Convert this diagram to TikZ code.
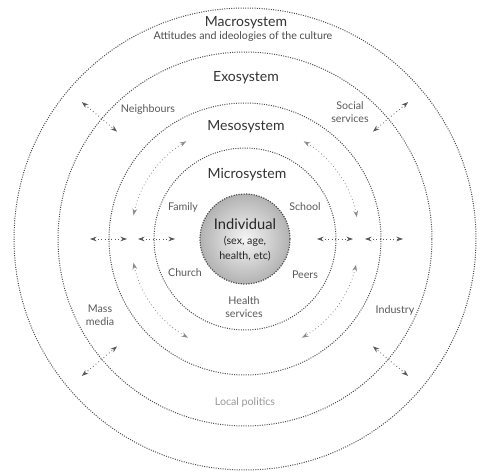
\documentclass[tikz,border=0pt]{standalone}
\usepackage{fontspec}
\setmainfont{Lato}
\usetikzlibrary{arrows.meta,calc}
\begin{document}
\begin{tikzpicture}[x=0.75pt,y=0.75pt,
  ring/.style={draw=black!70, line width=0.75pt, densely dotted},
  flow/.style={draw=black!65, line width=0.6pt, dotted, {Stealth[length=5pt,width=3.5pt]}-{Stealth[length=5pt,width=3.5pt]}},
  arcflow/.style={draw=black!45, line width=0.6pt, dotted, {Stealth[length=5pt,width=3.5pt]}-{Stealth[length=5pt,width=3.5pt]}},
  head/.style={font=\fontsize{10.5}{12}\selectfont, text=black!80, inner sep=1pt},
  lab/.style={font=\fontsize{8}{9.5}\selectfont, text=black!65, inner sep=1pt, align=center},
  faint/.style={font=\fontsize{8}{9.5}\selectfont, text=black!40, inner sep=1pt, align=center}
]
\useasboundingbox (0,0) rectangle (480,472);
\coordinate (c) at (245,233);

% rings
\draw[ring] (c) circle[radius=231];
\draw[ring] (c) circle[radius=187];
\draw[ring] (c) circle[radius=136];
\draw[ring] (c) circle[radius=91];

% individual
\shade[inner color=black!4, outer color=black!30] (c) circle[radius=45];
\draw[draw=black!70, line width=0.9pt, densely dotted] (c) circle[radius=45];
\node[align=center, inner sep=0pt, text=black!85] (ind) at (245,232)
  {{\fontsize{11}{12}\selectfont Individual}\\[-1pt]
   {\fontsize{8}{10}\selectfont (sex, age,}\\[-1pt]
   {\fontsize{8}{10}\selectfont health, etc)}};

% titles
\node[head] (macroT) at (246,449) {Macrosystem};
\node[font=\fontsize{8}{9}\selectfont, text=black!70, inner sep=1pt] (macroS) at (243,435) {Attitudes and ideologies of the culture};
\node[head] (exoT) at (246,394) {Exosystem};
\node[head] (mesoT) at (246,345) {Mesosystem};
\node[head] (microT) at (247,297) {Microsystem};

% labels
\node[lab] (neigh) at (148,362) {Neighbours};
\node[lab] (social) at (350,360) {Social\\services};
\node[lab] (family) at (183,265) {Family};
\node[lab] (school) at (305,265) {School};
\node[lab] (church) at (185,199) {Church};
\node[lab] (peers) at (305,197) {Peers};
\node[lab] (health) at (244,165) {Health\\services};
\node[lab] (mass) at (100,157) {Mass\\media};
\node[lab] (industry) at (395,162) {Industry};
\node[faint] (local) at (245,70) {Local politics};

% horizontal double arrows
\coordinate (hl1) at (90,233);  \coordinate (hl2) at (127,233);
\coordinate (hl3) at (138,233); \coordinate (hl4) at (175,233);
\coordinate (hr1) at (317,233); \coordinate (hr2) at (353,233);
\coordinate (hr3) at (365,233); \coordinate (hr4) at (403,233);
\draw[flow] (hl1) -- (hl2);
\draw[flow] (hl3) -- (hl4);
\draw[flow] (hr1) -- (hr2);
\draw[flow] (hr3) -- (hr4);

% diagonal double arrows across the exosystem ring
\coordinate (d1a) at ($(c)+(140:213)$); \coordinate (d1b) at ($(c)+(140:167)$);
\coordinate (d2a) at ($(c)+(40:213)$);  \coordinate (d2b) at ($(c)+(40:167)$);
\coordinate (d3a) at ($(c)+(220:213)$); \coordinate (d3b) at ($(c)+(220:167)$);
\coordinate (d4a) at ($(c)+(-40:213)$); \coordinate (d4b) at ($(c)+(-40:167)$);
\draw[flow] (d1a) -- (d1b);
\draw[flow] (d2a) -- (d2b);
\draw[flow] (d3a) -- (d3b);
\draw[flow] (d4a) -- (d4b);

% curved arrows in the mesosystem band
\coordinate (a1) at ($(c)+(168:114)$);
\coordinate (a2) at ($(c)+(59:114)$);
\coordinate (a3) at ($(c)+(192:114)$);
\coordinate (a4) at ($(c)+(-13:114)$);
\draw[arcflow] (a1) arc[start angle=168, end angle=121, radius=114];
\draw[arcflow] (a2) arc[start angle=59, end angle=11, radius=114];
\draw[arcflow] (a3) arc[start angle=192, end angle=240, radius=114];
\draw[arcflow] (a4) arc[start angle=-13, end angle=-60, radius=114];
\end{tikzpicture}
\end{document}
